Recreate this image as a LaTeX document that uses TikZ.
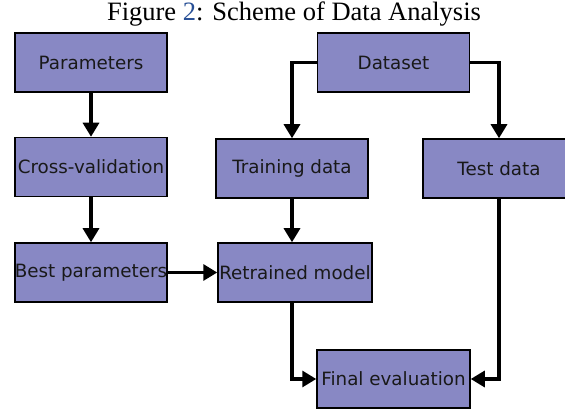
\documentclass[tikz,border=0pt]{standalone}
\usepackage{fontspec}
\setmainfont{Liberation Serif}
\newfontfamily\boxfont{DejaVu Sans}
\usetikzlibrary{arrows.meta}
\definecolor{boxfill}{RGB}{136,136,196}
\definecolor{linkblue}{RGB}{40,80,150}
\tikzset{
  flowbox/.style={draw=black, line width=1.5pt, fill=boxfill, minimum width=152pt, minimum height=59pt, inner sep=0pt, text=black!90, font=\boxfont\fontsize{18.3}{21}\selectfont},
  flowarrow/.style={line width=3.2pt, -{Triangle[width=16pt,length=14pt]}},
}
\begin{document}
\begin{tikzpicture}[x=1pt,y=1pt]
\useasboundingbox (0,0) rectangle (565,412);
\clip (0,0) rectangle (565,412);
\node[anchor=base, font=\fontsize{26.5}{30}\selectfont] (cap) at (294,391) {Figure \textcolor{linkblue}{2}: Scheme of Data Analysis};
\node[flowbox] (par) at (91,349.5) {Parameters};
\node[flowbox] (ds) at (393.5,349.5) {Dataset};
\node[flowbox] (cv) at (91,245) {Cross-validation};
\node[flowbox] (tr) at (292,243.5) {Training data};
\node[flowbox] (te) at (499,243.5) {Test data};
\node[flowbox] (bp) at (91,139.5) {Best parameters};
\node[flowbox, minimum width=154pt] (rm) at (295,139.5) {Retrained model};
\node[flowbox, minimum width=153pt, minimum height=58pt] (fe) at (393.5,33) {Final evaluation};
\draw[flowarrow] (par) -- (cv);
\draw[flowarrow] (cv) -- (bp);
\draw[flowarrow] (ds.west) -| (tr.north);
\draw[flowarrow] (ds.east) -| (te.north);
\draw[flowarrow] (tr.south) -- (tr.south |- rm.north);
\draw[flowarrow] (bp.east) -- (rm.west);
\draw[flowarrow] (rm.south -| tr.south) |- (fe.west);
\draw[flowarrow] (te.south) |- (fe.east);
\end{tikzpicture}
\end{document}
